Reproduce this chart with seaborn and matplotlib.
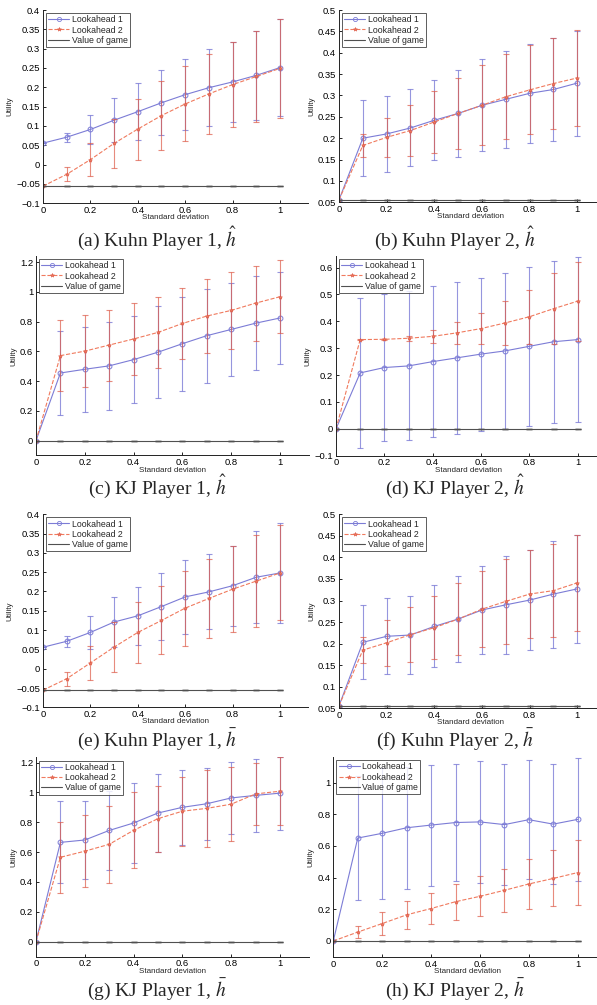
import numpy as np
import pandas as pd
import matplotlib
matplotlib.use('Agg')
import matplotlib.pyplot as plt
import seaborn as sns
from matplotlib.ticker import FuncFormatter
from matplotlib.lines import Line2D

sigma = [0, 0.1, 0.2, 0.3, 0.4, 0.5, 0.6, 0.7, 0.8, 0.9, 1.0]

# (a) Kuhn Player 1, h hat
a_la1 = [0.0556, 0.071, 0.091, 0.115, 0.137, 0.160, 0.181, 0.199, 0.214, 0.231, 0.251]
a_sd1 = [0, 0.012, 0.037, 0.057, 0.073, 0.084, 0.092, 0.099, 0.104, 0.115, 0.126]
a_la2 = [-0.0556, -0.025, 0.013, 0.055, 0.092, 0.127, 0.157, 0.183, 0.207, 0.228, 0.249]
a_sd2 = [0, 0.018, 0.042, 0.064, 0.079, 0.089, 0.097, 0.103, 0.110, 0.117, 0.129]
a_game = -0.0556

# (b) Kuhn Player 2, h hat
b_la1 = [0.0556, 0.200, 0.210, 0.224, 0.242, 0.258, 0.277, 0.291, 0.305, 0.314, 0.329]
b_sd1 = [0, 0.089, 0.089, 0.090, 0.094, 0.102, 0.108, 0.113, 0.116, 0.121, 0.123]
b_la2 = [0.0556, 0.183, 0.202, 0.218, 0.238, 0.258, 0.277, 0.297, 0.313, 0.328, 0.341]
b_sd2 = [0, 0.027, 0.046, 0.060, 0.072, 0.083, 0.094, 0.099, 0.104, 0.107, 0.112]
b_game = 0.0556

# (c) KJ Player 1, h hat
c_la1 = [0, 0.455, 0.480, 0.503, 0.545, 0.595, 0.652, 0.706, 0.748, 0.790, 0.825]
c_sd1 = [0, 0.280, 0.285, 0.294, 0.295, 0.310, 0.316, 0.316, 0.314, 0.318, 0.312]
c_la2 = [0, 0.572, 0.602, 0.643, 0.684, 0.728, 0.788, 0.838, 0.876, 0.925, 0.968]
c_sd2 = [0, 0.240, 0.244, 0.239, 0.244, 0.240, 0.240, 0.248, 0.260, 0.253, 0.247]
c_game = 0.0

# (d) KJ Player 2, h hat
d_la1 = [0, 0.208, 0.228, 0.234, 0.250, 0.264, 0.278, 0.290, 0.307, 0.324, 0.332]
d_sd1 = [0, 0.280, 0.275, 0.277, 0.281, 0.283, 0.285, 0.290, 0.296, 0.301, 0.308]
d_la2 = [0, 0.332, 0.333, 0.337, 0.344, 0.357, 0.373, 0.394, 0.417, 0.447, 0.475]
d_sd2 = [0, 0.002, 0.003, 0.010, 0.025, 0.041, 0.059, 0.083, 0.100, 0.133, 0.147]
d_game = 0.0

# (e) Kuhn Player 1, h bar
e_la1 = [0.0556, 0.071, 0.094, 0.121, 0.137, 0.161, 0.186, 0.199, 0.215, 0.237, 0.248]
e_sd1 = [0, 0.014, 0.042, 0.066, 0.075, 0.086, 0.095, 0.097, 0.104, 0.119, 0.130]
e_la2 = [-0.0556, -0.026, 0.015, 0.056, 0.094, 0.125, 0.157, 0.182, 0.206, 0.227, 0.248]
e_sd2 = [0, 0.018, 0.045, 0.065, 0.080, 0.088, 0.097, 0.102, 0.112, 0.120, 0.123]
e_game = -0.0556

# (f) Kuhn Player 2, h bar
f_la1 = [0.0556, 0.203, 0.217, 0.220, 0.240, 0.257, 0.278, 0.290, 0.301, 0.315, 0.327]
f_sd1 = [0, 0.086, 0.088, 0.091, 0.095, 0.100, 0.103, 0.113, 0.116, 0.124, 0.125]
f_la2 = [0.0556, 0.185, 0.202, 0.221, 0.237, 0.257, 0.280, 0.298, 0.315, 0.323, 0.341]
f_sd2 = [0, 0.030, 0.053, 0.063, 0.073, 0.084, 0.088, 0.099, 0.103, 0.108, 0.111]
f_game = 0.0556

# (g) KJ Player 1, h bar
g_la1 = [0, 0.665, 0.681, 0.745, 0.795, 0.862, 0.900, 0.924, 0.963, 0.980, 0.995]
g_sd1 = [0, 0.275, 0.260, 0.265, 0.270, 0.262, 0.250, 0.242, 0.242, 0.243, 0.245]
g_la2 = [0, 0.565, 0.606, 0.652, 0.746, 0.824, 0.874, 0.893, 0.921, 0.990, 1.008]
g_sd2 = [0, 0.237, 0.240, 0.258, 0.255, 0.222, 0.230, 0.257, 0.250, 0.210, 0.228]
g_game = 0.0

# (h) KJ Player 2, h bar
h_la1 = [0, 0.650, 0.680, 0.715, 0.732, 0.748, 0.752, 0.735, 0.766, 0.738, 0.768]
h_sd1 = [0, 0.390, 0.415, 0.385, 0.382, 0.368, 0.383, 0.380, 0.375, 0.380, 0.390]
h_la2 = [0, 0.056, 0.110, 0.165, 0.205, 0.248, 0.282, 0.320, 0.360, 0.395, 0.432]
h_sd2 = [0, 0.036, 0.070, 0.087, 0.095, 0.114, 0.126, 0.137, 0.155, 0.177, 0.203]
h_game = 0.0

captions = [r'(a) Kuhn Player 1, $\hat{h}$', r'(b) Kuhn Player 2, $\hat{h}$',
            r'(c) KJ Player 1, $\hat{h}$', r'(d) KJ Player 2, $\hat{h}$',
            r'(e) Kuhn Player 1, $\bar{h}$', r'(f) Kuhn Player 2, $\bar{h}$',
            r'(g) KJ Player 1, $\bar{h}$', r'(h) KJ Player 2, $\bar{h}$']

sns.set_style('ticks')
plt.rcParams['font.family'] = ['Liberation Sans', 'DejaVu Sans']
plt.rcParams['mathtext.fontset'] = 'stix'

c1 = '#7c7cd6'
c2 = '#f07a5e'
c2bar = '#dd5a48'
cgame = '#505050'

W, H = 597, 1005
fig = plt.figure(figsize=(W / 100, H / 100), dpi=100)

# panel layout in pixels: (x of sigma=0, px per unit sigma, top, bottom, ylim, yticks)
kuhn1 = ([-0.1, 0.4], np.arange(-0.1, 0.401, 0.05))
kuhn2 = ([0.05, 0.5], np.arange(0.05, 0.501, 0.05))
panels = [
    (a_la1, a_sd1, a_la2, a_sd2, a_game, 43, 237, 10, 203.3) + kuhn1,
    (b_la1, b_sd1, b_la2, b_sd2, b_game, 339, 238.3, 10, 202.3) + kuhn2,
    (c_la1, c_sd1, c_la2, c_sd2, c_game, 36, 244, 256, 455.5, [-0.1, 1.242], np.arange(0, 1.21, 0.2)),
    (d_la1, d_sd1, d_la2, d_sd2, d_game, 336, 241.7, 256, 455.7, [-0.1, 0.643], np.arange(-0.1, 0.61, 0.1)),
    (e_la1, e_sd1, e_la2, e_sd2, e_game, 43, 237, 514.3, 707.3) + kuhn1,
    (f_la1, f_sd1, f_la2, f_sd2, f_game, 339, 238.3, 514.3, 708.3) + kuhn2,
    (g_la1, g_sd1, g_la2, g_sd2, g_game, 36, 244, 757.5, 956.5, [-0.1, 1.234], np.arange(0, 1.21, 0.2)),
    (h_la1, h_sd1, h_la2, h_sd2, h_game, 333.3, 244.4, 757, 956.8, [-0.1, 1.162], np.arange(0, 1.01, 0.2)),
]

fmt = FuncFormatter(lambda v, _: ('%g' % round(v, 3)).replace('-', '\u2212'))

for i, (la1, sd1, la2, sd2, game, x0, ux, top, bot, ylim, yt) in enumerate(panels):
    xr = 1.12 if i % 2 == 0 else 1.1
    ax = fig.add_axes([x0 / W, 1 - bot / H, ux * xr / W, (bot - top) / H])
    df = pd.DataFrame({'sigma': sigma, 'la1': la1, 'sd1': sd1, 'la2': la2, 'sd2': sd2})
    df['game'] = game

    ax.errorbar(df['sigma'], df['la1'], yerr=df['sd1'], fmt='none', ecolor=c1,
                elinewidth=0.8, capsize=2.5, capthick=0.8, alpha=0.8)
    sns.lineplot(data=df, x='sigma', y='la1', ax=ax, color=c1, lw=0.8, marker='o',
                 ms=3.5, mfc='none', mec=c1, mew=0.7, errorbar=None)
    ax.errorbar(df['sigma'], df['la2'], yerr=df['sd2'], fmt='none', ecolor=c2bar,
                elinewidth=0.8, capsize=2.5, capthick=0.8, alpha=0.7)
    sns.lineplot(data=df, x='sigma', y='la2', ax=ax, color=c2, lw=0.8, ls='--',
                 marker='*', ms=3, mec=c2bar, mew=0.4, errorbar=None)
    ax.errorbar(df['sigma'], df['game'], yerr=0, fmt='none', ecolor=cgame,
                elinewidth=0, capsize=2.5, capthick=1.0)
    sns.lineplot(data=df, x='sigma', y='game', ax=ax, color=cgame, lw=0.8, errorbar=None)

    ax.set_xlim(0, xr)
    ax.set_ylim(*ylim)
    ax.set_xticks([0, 0.2, 0.4, 0.6, 0.8, 1])
    ax.set_yticks(yt)
    ax.xaxis.set_major_formatter(fmt)
    ax.yaxis.set_major_formatter(fmt)
    ax.tick_params(direction='in', length=2.5, width=0.6, labelsize=6.8, pad=2, colors='black')
    sns.despine(ax=ax)
    for s in ['left', 'bottom']:
        ax.spines[s].set_linewidth(0.7)
        ax.spines[s].set_color('#222222')
    ax.set_xlabel('Standard deviation', fontsize=5.8, labelpad=-0.5)
    ax.set_ylabel('Utility', fontsize=5.8, labelpad=2)

    handles = [Line2D([], [], color=c1, lw=0.8, marker='o', ms=3, mfc='none', mew=0.6),
               Line2D([], [], color=c2, lw=0.8, ls='--', marker='*', ms=3, mec=c2bar, mew=0.4),
               Line2D([], [], color=cgame, lw=0.8)]
    leg = ax.legend(handles, ['Lookahead 1', 'Lookahead 2', 'Value of game'],
                    loc='upper left', fontsize=6.3, frameon=True, fancybox=False,
                    borderpad=0.25, labelspacing=0.15, handlelength=2.4,
                    handletextpad=0.3, borderaxespad=0.35)
    leg.get_frame().set_edgecolor('#333333')
    leg.get_frame().set_linewidth(0.7)

    cx = 157 if i % 2 == 0 else 455
    base = [246.5, 495, 745.5, 996][i // 2]
    fig.text(cx / W, 1 - base / H, captions[i], ha='center', va='baseline',
             fontsize=14, family=['Liberation Serif', 'DejaVu Serif'])

fig.savefig('out.png', dpi=100, facecolor='white')
